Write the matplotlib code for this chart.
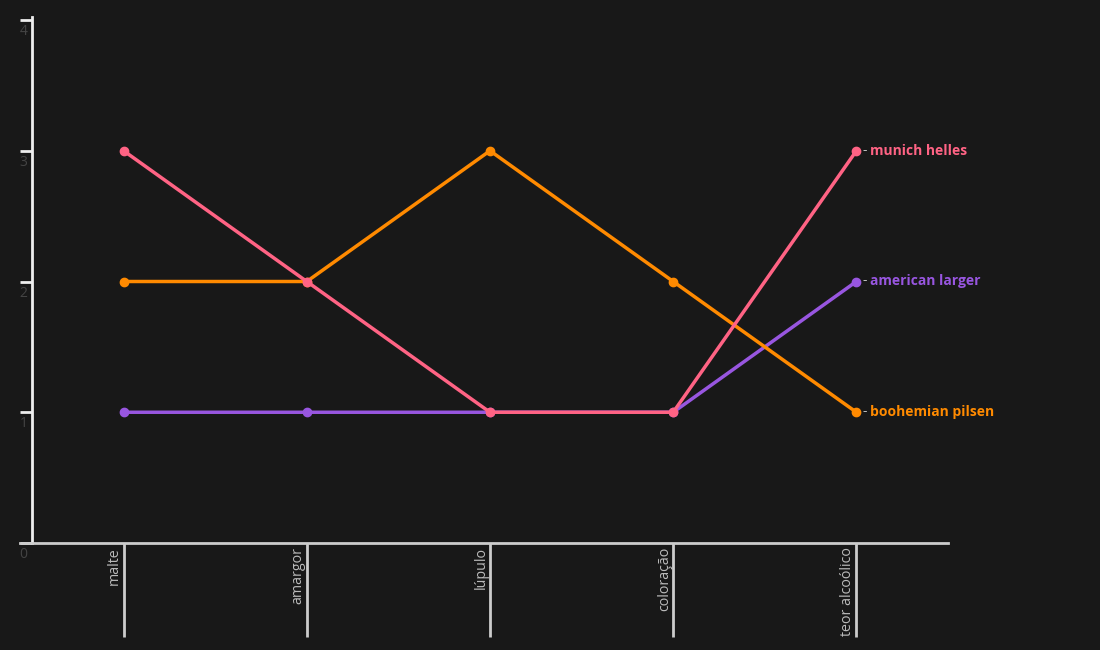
import numpy as np
import matplotlib
matplotlib.use('Agg')
import matplotlib.pyplot as plt

# dados do gráfico
categorias = ['malte', 'amargor', 'lúpulo', 'coloração', 'teor alcoólico']
american_larger = [1, 1, 1, 1, 2]
boohemian_pilsen = [2, 2, 3, 2, 1]
munich_helles = [3, 2, 1, 1, 3]
y_ticks = [0, 1, 2, 3, 4]

series = [
    ('american larger', american_larger, '#9856e0'),
    ('boohemian pilsen', boohemian_pilsen, '#ff8a00'),
    ('munich helles', munich_helles, '#ff6384'),
]

bg = '#181818'
plt.rcParams['font.family'] = ['Open Sans', 'DejaVu Sans']

fig = plt.figure(figsize=(11, 6.5), dpi=100, facecolor=bg)
ax = fig.add_axes([32 / 1100, 107 / 650, 916 / 1100, 523 / 650])
ax.set_facecolor(bg)

x = np.arange(len(categorias))
for nome, vals, cor in series:
    ax.plot(x, vals, color=cor, lw=2.5, marker='o', ms=6, zorder=3,
            solid_capstyle='round')
    # traço cinza + nome da série
    ax.annotate('-', xy=(x[-1], vals[-1]), xytext=(4.5, 0.5),
                textcoords='offset points', va='center', ha='left',
                color='#bbbbbb', fontsize=10)
    ax.annotate(nome, xy=(x[-1], vals[-1]), xytext=(10, 0),
                textcoords='offset points', va='center', ha='left',
                color=cor, fontsize=10, fontweight='bold')

ax.set_xlim(-0.5, 4.5)
ax.set_ylim(0, 4)

for s in ['top', 'right']:
    ax.spines[s].set_visible(False)
ax.spines['left'].set_color('#eeeeee')
ax.spines['left'].set_linewidth(2)
ax.spines['left'].set_bounds(0, 4.02)
ax.spines['bottom'].set_color('#cccccc')
ax.spines['bottom'].set_linewidth(2)

ax.set_yticks(y_ticks)
ax.set_yticklabels([])
ax.tick_params(axis='y', length=8.6, width=2, color='#eeeeee')
for v in y_ticks:
    ax.annotate(str(v), xy=(0, v), xycoords=('axes fraction', 'data'),
                xytext=(-6, -3), textcoords='offset points',
                ha='center', va='top', color='#444444', fontsize=10)

ax.set_xticks(x)
ax.set_xticklabels([])
ax.tick_params(axis='x', length=68, width=2, color='#cccccc')
for xi, cat in zip(x, categorias):
    ax.annotate(cat, xy=(xi, 0), xytext=(-1, -3), textcoords='offset points',
                rotation=90, ha='right', va='bottom', color='#bbbbbb',
                fontsize=10.3, rotation_mode='anchor')

# eixo x também à esquerda do eixo y
ax.plot([-0.566, -0.5], [0, 0], color='#cccccc', lw=2, clip_on=False)

fig.savefig('out.png', facecolor=bg)
